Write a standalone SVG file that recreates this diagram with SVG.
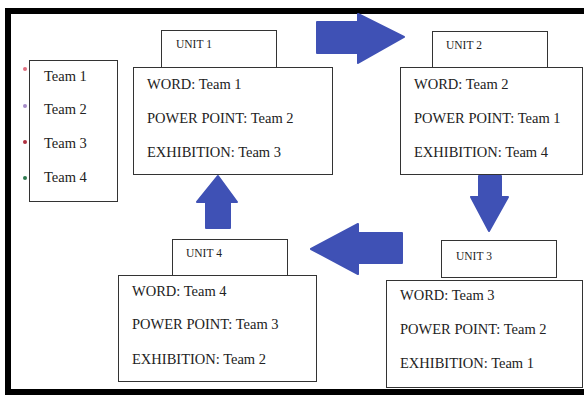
<svg xmlns="http://www.w3.org/2000/svg" width="584" height="397" viewBox="0 0 584 397">
<defs>
<style>
.box{fill:#fff;stroke:#333;stroke-width:1}
.t{font-family:"Liberation Serif","Times New Roman",serif;font-size:14.5px;fill:#222}
.u{font-family:"Liberation Serif","Times New Roman",serif;font-size:11.5px;fill:#222}
.arr{fill:#3f51b5;stroke:#3f51b5;stroke-width:2;stroke-linejoin:round}
</style>
</defs>
<rect x="0" y="0" width="584" height="397" fill="#fff"/>
<rect x="8" y="11" width="600" height="381" fill="none" stroke="#000" stroke-width="6"/>

<g id="teams">
<rect class="box" x="29.5" y="60.5" width="88" height="141"/>
<circle cx="25" cy="69" r="2" fill="#e07080"/>
<circle cx="25" cy="106" r="2" fill="#a68cc8"/>
<circle cx="25" cy="142" r="2" fill="#b03040"/>
<circle cx="25" cy="178" r="2" fill="#2f7a50"/>
<text class="t" x="44" y="81">Team 1</text>
<text class="t" x="44" y="114">Team 2</text>
<text class="t" x="44" y="148">Team 3</text>
<text class="t" x="44" y="182">Team 4</text>
</g>

<g id="unit1">
<rect class="box" x="161.5" y="30.5" width="115" height="37"/>
<text class="u" x="176" y="48">UNIT 1</text>
<rect class="box" x="133.5" y="67.5" width="199" height="107"/>
<text class="t" x="147" y="89">WORD: Team 1</text>
<text class="t" x="147" y="123">POWER POINT: Team 2</text>
<text class="t" x="147" y="157">EXHIBITION: Team 3</text>
</g>

<g id="unit2">
<rect class="box" x="432.5" y="31.5" width="115" height="36"/>
<text class="u" x="446" y="49">UNIT 2</text>
<rect class="box" x="400.5" y="67.5" width="182" height="107"/>
<text class="t" x="414" y="89">WORD: Team 2</text>
<text class="t" x="414" y="123">POWER POINT: Team 1</text>
<text class="t" x="414" y="157">EXHIBITION: Team 4</text>
</g>

<g id="unit3">
<rect class="box" x="441.5" y="240.5" width="115" height="37"/>
<text class="u" x="456" y="260">UNIT 3</text>
<rect class="box" x="386.5" y="280.5" width="196" height="107"/>
<text class="t" x="400" y="300">WORD: Team 3</text>
<text class="t" x="400" y="334">POWER POINT: Team 2</text>
<text class="t" x="400" y="368">EXHIBITION: Team 1</text>
</g>

<g id="unit4">
<rect class="box" x="172.5" y="239.5" width="115" height="36"/>
<text class="u" x="186" y="257">UNIT 4</text>
<rect class="box" x="118.5" y="275.5" width="198" height="106"/>
<text class="t" x="132" y="296">WORD: Team 4</text>
<text class="t" x="132" y="329">POWER POINT: Team 3</text>
<text class="t" x="132" y="364">EXHIBITION: Team 2</text>
</g>

<g id="connectors">
<path class="arr" d="M317,22 L358,22 L358,14 L404,37 L358,63 L358,53 L317,53 Z"/>
<path class="arr" d="M479,176 L501,176 L501,197 L508,197 L489,231 L471,197 L479,197 Z"/>
<path class="arr" d="M402,233 L358,233 L358,224 L311,249 L358,274 L358,263 L402,263 Z"/>
<path class="arr" d="M206,228 L230,228 L230,202 L237,202 L218,176 L197,202 L206,202 Z"/>
</g>
</svg>
